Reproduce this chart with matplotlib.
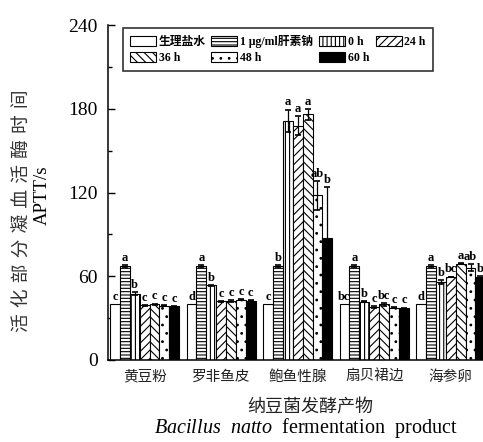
import numpy as np
import matplotlib
matplotlib.use("Agg")
import matplotlib.pyplot as plt

plt.rcParams['hatch.linewidth'] = 0.8
plt.rcParams['mathtext.fontset'] = 'custom'
plt.rcParams['mathtext.it'] = 'Liberation Serif:italic'
plt.rcParams['mathtext.rm'] = 'Liberation Serif'

# APTT (s) of Bacillus natto fermentation products
products = ['黄豆粉', '罗非鱼皮', '鲍鱼性腺', '扇贝裙边', '海参卵']
treatments = ['生理盐水', '1 μg/ml肝素钠', '0 h', '24 h', '36 h', '48 h', '60 h']

aptt = [
    [40.0, 67.4, 47.6, 39.3, 39.8, 39.0, 38.6],
    [40.0, 67.4, 53.6, 42.1, 42.4, 43.3, 42.5],
    [40.0, 67.4, 171.4, 168.0, 176.0, 117.9, 87.6],
    [40.0, 67.4, 41.7, 38.1, 39.8, 37.4, 37.1],
    [40.0, 67.4, 56.0, 59.5, 69.0, 66.0, 59.5],
]
sd = [
    [0.0, 0.8, 0.8, 0.3, 0.6, 0.3, 0.3],
    [0.0, 0.8, 0.3, 0.3, 0.5, 0.5, 0.3],
    [0.0, 0.8, 8.0, 7.0, 4.0, 10.5, 36.0],
    [0.0, 0.8, 0.5, 0.8, 0.8, 0.5, 0.5],
    [0.0, 0.8, 1.5, 0.3, 0.5, 2.5, 0.5],
]
letters = [
    ['c', 'a', 'b', 'c', 'c', 'c', 'c'],
    ['d', 'a', 'b', 'c', 'c', 'c', 'c'],
    ['c', 'b', 'a', 'a', 'a', 'ab', 'b'],
    ['bc', 'a', 'b', 'c', 'bc', 'c', 'c'],
    ['d', 'a', 'b', 'bc', 'a', 'ab', 'b'],
]

hatches = ['', '-----', '||||', '////', '\\\\\\\\', '..', '']
faces = ['white'] * 6 + ['black']

W, H = 483, 442
fig = plt.figure(figsize=(W / 100, H / 100), dpi=100)
ax = fig.add_axes([107.7 / W, 82 / H, (505 - 107.7) / W, (360 - 25) / H])

bw = 1.0
gap = 7.73
serif = ['Liberation Serif', 'Noto Sans CJK SC']
for g in range(len(products)):
    for i in range(len(treatments)):
        x = g * gap + i * bw
        v = aptt[g][i]
        e = sd[g][i]
        ax.bar(x, v, width=bw, align='edge', color=faces[i], edgecolor='black',
               linewidth=0.8, hatch=hatches[i], zorder=2,
               label=treatments[i] if g == 0 else None)
        if e > 0:
            ax.errorbar(x + bw / 2, v, yerr=e, fmt='none', ecolor='black',
                        elinewidth=0.9, capsize=2.5, capthick=1.2, zorder=3)
        ax.text(x + bw / 2, v + e + 0.8, letters[g][i], ha='center', va='bottom',
                fontsize=9, fontweight='bold', family=serif)

ax.set_xlim(-0.23, -0.23 + (505 - 107.7) / 9.9)
ax.set_ylim(0, 240)
ax.set_yticks(np.arange(0, 241, 60))
ax.set_yticks(np.arange(30, 240, 60), minor=True)
ax.tick_params(axis='y', which='both', direction='in', length=5, width=1, pad=7)
ax.tick_params(axis='y', which='minor', length=3)
ax.tick_params(axis='x', length=0, pad=7)
ax.set_xticks([g * gap + 3.5 * bw for g in range(len(products))])
ax.set_xticklabels(products, family=['Noto Sans CJK SC'], fontsize=10.5,
                   color='#222222')
for lab in ax.get_yticklabels():
    lab.set_family('Liberation Serif')
    lab.set_fontsize(14)
ax.spines['top'].set_visible(False)
ax.spines['right'].set_visible(False)
ax.spines['left'].set_linewidth(1.1)
ax.spines['bottom'].set_linewidth(1.1)

# axis titles
fig.text(22 / W, 1 - 211 / H, '\u2004'.join('活化部分凝血活酶时间'), rotation=90,
         ha='center', va='center', fontsize=13.5,
         family=['Noto Sans CJK SC', 'DejaVu Sans'], color='#333333')
fig.text(42 / W, 1 - 195 / H, 'APTT/s', rotation=90, ha='center', va='center',
         fontsize=13.5, family='Liberation Serif')
fig.text(310 / W, 1 - 407 / H, '纳豆菌发酵产物', ha='center', va='center',
         fontsize=13, family='Noto Sans CJK SC', color='#222222')
fig.text(306 / W, 1 - 428 / H, r'$\mathit{Bacillus}$  $\mathit{natto}$  fermentation  product',
         ha='center', va='center', fontsize=14.5, family='Liberation Serif')

# legend, filled row by row
h, l = ax.get_legend_handles_labels()
order = [0, 4, 1, 5, 2, 6, 3]
leg = fig.legend([h[k] for k in order], [l[k] for k in order], ncol=4,
                 loc='upper left', bbox_to_anchor=(122.5 / W, 1 - 28.3 / H),
                 frameon=True, fancybox=False, edgecolor='black',
                 prop={'family': serif, 'weight': 'bold', 'size': 8.5},
                 handlelength=2.2, handleheight=0.95, handletextpad=0.25,
                 columnspacing=0.5, labelspacing=0.27, borderpad=0.6,
                 borderaxespad=0)
leg.get_frame().set_linewidth(1.2)

fig.savefig('out.png', dpi=100)
